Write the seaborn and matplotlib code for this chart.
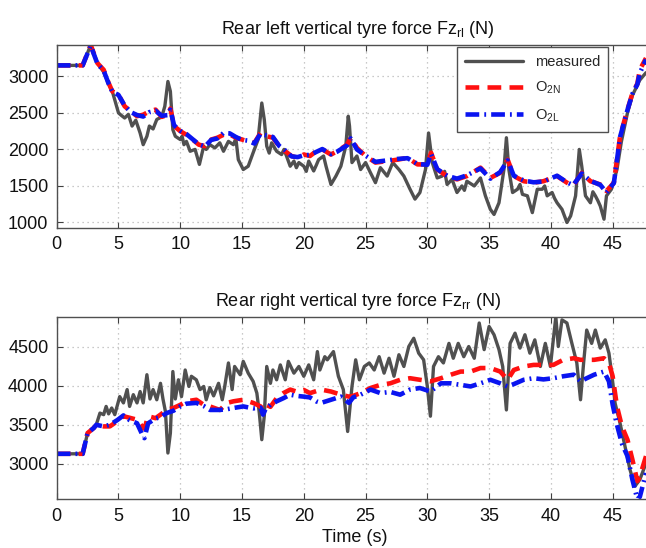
import numpy as np
import pandas as pd
import matplotlib
matplotlib.use("Agg")
import matplotlib.pyplot as plt
import seaborn as sns

# ---------------- Rear left tyre force ----------------
rl_t_meas = [0, 2.1, 2.75, 3.3, 3.8, 4.2, 4.5, 5.0, 5.2, 5.5, 5.8, 6.1, 6.4, 6.75, 7.0, 7.3, 7.5,
             7.8, 8.1, 8.5, 8.75, 9.0, 9.2, 9.4, 9.6, 10.0, 10.15, 10.3, 10.5, 10.8, 11.2, 11.55,
             11.9, 12.1, 12.4, 12.8, 13.2, 13.5, 13.9, 14.3, 14.5, 14.7, 15.1, 15.5, 15.9, 16.3,
             16.6, 16.8, 17.0, 17.2, 17.4, 17.8, 18.2, 18.4, 18.6, 18.9, 19.2, 19.4, 19.6, 20.0,
             20.2, 20.4, 20.8, 21.0, 21.2, 21.6, 21.8, 22.2, 22.6, 23.0, 23.4, 23.6, 23.7, 23.9,
             24.3, 24.6, 25.0, 25.4, 25.8, 26.2, 26.75, 27.2, 27.7, 28.1, 28.6, 29.0, 29.4, 29.85,
             30.1, 30.4, 30.8, 31.2, 31.4, 31.6, 32.0, 32.4, 32.8, 33.0, 33.2, 33.8, 34.3, 34.7,
             35.1, 35.4, 35.8, 36.2, 36.4, 36.6, 36.9, 37.3, 37.5, 37.7, 38.1, 38.5, 38.9, 39.3,
             39.5, 39.7, 40.1, 40.3, 40.5, 40.9, 41.3, 41.6, 42.0, 42.3, 42.5, 42.8, 43.2, 43.4,
             43.6, 43.8, 44.0, 44.3, 44.5, 44.9, 45.35, 45.7, 46.2, 46.6, 47.2, 47.7]
rl_meas = [3150, 3150, 3430, 3180, 3060, 2900, 2795, 2500, 2470, 2430, 2480, 2320, 2400, 2225,
           2065, 2180, 2320, 2280, 2410, 2445, 2590, 2930, 2795, 2270, 2180, 2135, 2180, 2065,
           2110, 1975, 2000, 1795, 2045, 2000, 2065, 2020, 2090, 1975, 2110, 2065, 2150, 1860,
           1725, 1770, 1955, 2135, 2635, 2410, 2045, 1950, 2090, 1975, 1930, 2000, 1910, 1770,
           1840, 1750, 1820, 1770, 1700, 1840, 1705, 1780, 1860, 1910, 1770, 1520, 1635, 1770,
           2045, 2455, 2320, 1820, 1910, 1725, 1820, 1680, 1545, 1750, 1635, 1820, 1725, 1635,
           1455, 1320, 1410, 1725, 2225, 1820, 1610, 1635, 1700, 1520, 1590, 1410, 1500, 1440,
           1565, 1500, 1610, 1365, 1180, 1110, 1270, 1725, 2160, 1725, 1410, 1455, 1520, 1385,
           1365, 1135, 1455, 1455, 1500, 1365, 1410, 1330, 1270, 1180, 1000, 1090, 1365, 2000,
           1770, 1365, 1270, 1420, 1365, 1300, 1225, 1045, 1365, 1455, 1725, 2100, 2500, 2740,
           2950, 3050]

rl_t_est = [0, 2.1, 2.75, 3.3, 3.8, 4.2, 4.5, 5.0, 5.5, 6.0, 6.5, 7.0, 7.5, 8.0, 8.5, 9.0, 9.2,
            9.5, 10.0, 10.5, 11.0, 11.5, 12.0, 12.5, 13.0, 13.5, 14.0, 14.5, 15.0, 15.5, 16.0,
            16.5, 17.0, 17.5, 18.0, 18.5, 19.0, 19.5, 20.0, 20.5, 21.0, 21.5, 22.2, 22.7, 23.5,
            23.8, 24.3, 25.0, 25.8, 26.75, 27.6, 28.4, 29.2, 30.0, 30.3, 30.8, 31.6, 32.4, 33.2,
            34.3, 35.1, 35.9, 36.5, 37.0, 37.8, 38.6, 39.4, 40.5, 41.3, 41.8, 42.5, 43.2, 44.0,
            44.5, 45.1, 45.6, 46.2, 46.6, 47.0, 47.2, 47.7]
rl_o2n = [3150, 3150, 3430, 3180, 3090, 2910, 2795, 2750, 2590, 2520, 2455, 2475, 2520, 2545,
          2445, 2475, 2560, 2320, 2250, 2200, 2135, 2065, 2045, 2135, 2160, 2200, 2205, 2160,
          2135, 2110, 2090, 2225, 2180, 2160, 2045, 1975, 1910, 1885, 1930, 1910, 1975, 2000,
          1930, 1975, 2065, 2160, 2020, 1910, 1820, 1840, 1860, 1885, 1795, 1795, 1955, 1725,
          1635, 1590, 1635, 1750, 1610, 1680, 1860, 1635, 1565, 1545, 1565, 1635, 1545, 1500,
          1680, 1565, 1520, 1430, 1545, 2180, 2545, 2770, 2900, 3090, 3250]
rl_o2l = [3150, 3150, 3420, 3170, 3080, 2900, 2790, 2745, 2600, 2510, 2470, 2450, 2510, 2530,
          2460, 2470, 2545, 2330, 2255, 2210, 2140, 2070, 2040, 2130, 2150, 2225, 2220, 2170,
          2130, 2120, 2080, 2215, 2190, 2170, 2050, 1985, 1905, 1895, 1920, 1925, 1965, 2005,
          1935, 1970, 2055, 2150, 2000, 1915, 1830, 1850, 1870, 1880, 1800, 1790, 1940, 1730,
          1640, 1600, 1645, 1740, 1600, 1690, 1850, 1640, 1575, 1550, 1560, 1640, 1550, 1510,
          1670, 1570, 1515, 1410, 1540, 2170, 2540, 2760, 2890, 3045, 3230]

# ---------------- Rear right tyre force ----------------
rr_t_meas = [0, 2.1, 2.5, 3.0, 3.2, 3.5, 3.8, 4.0, 4.2, 4.45, 4.7, 5.1, 5.4, 5.7, 5.9, 6.2, 6.5,
             6.75, 7.0, 7.3, 7.55, 7.8, 8.1, 8.4, 8.6, 8.8, 9.0, 9.2, 9.4, 9.6, 9.85, 10.1, 10.4,
             10.7, 10.9, 11.3, 11.6, 11.9, 12.1, 12.4, 12.7, 13.1, 13.4, 13.6, 13.9, 14.2, 14.4,
             14.85, 15.1, 15.5, 15.9, 16.2, 16.4, 16.6, 16.8, 17.0, 17.3, 17.5, 17.8, 18.1, 18.5,
             18.75, 19.2, 19.6, 20.0, 20.4, 20.8, 21.1, 21.3, 21.7, 21.9, 22.4, 22.8, 23.2, 23.55,
             23.9, 24.2, 24.5, 24.9, 25.3, 25.7, 26.1, 26.5, 26.9, 27.3, 27.7, 28.1, 28.5, 28.9,
             29.3, 29.7, 30.0, 30.25, 30.5, 30.9, 31.3, 31.75, 32.1, 32.5, 32.95, 33.35, 33.8,
             34.2, 34.6, 35.0, 35.4, 35.8, 36.1, 36.4, 36.7, 37.1, 37.5, 37.9, 38.3, 38.7, 39.15,
             39.55, 39.96, 40.4, 40.6, 40.9, 41.3, 41.7, 42.1, 42.4, 42.65, 42.9, 43.3, 43.6,
             44.0, 44.4, 44.7, 44.95, 45.2, 45.6, 46.0, 46.4, 46.8, 47.2, 47.7]
rr_meas = [3130, 3130, 3395, 3460, 3500, 3650, 3630, 3735, 3640, 3715, 3630, 3860, 3780, 3950,
           3735, 3885, 3780, 3925, 3780, 4140, 3830, 3950, 3820, 4030, 3830, 3670, 3140, 3395,
           4180, 3830, 4075, 3860, 4200, 3990, 4120, 4075, 3950, 3990, 3820, 3975, 3870, 4030,
           3820, 3990, 4290, 3950, 4245, 4140, 4310, 4160, 4055, 3905, 3650, 3310, 3610, 4245,
           4030, 4200, 4075, 4265, 4075, 4310, 4160, 4245, 4120, 4265, 4075, 4435, 4200, 4370,
           4330, 4435, 4120, 3950, 3415, 3990, 4330, 4075, 4245, 4290, 4200, 4370, 4160, 4350,
           4120, 4395, 4245, 4500, 4605, 4415, 4330, 3990, 3610, 4245, 4370, 4290, 4540, 4350,
           4540, 4370, 4500, 4350, 4800, 4460, 4755, 4650, 4460, 4245, 3690, 4540, 4670, 4480,
           4650, 4415, 4585, 4245, 4540, 4245, 4880, 4500, 4840, 4800, 4540, 4290, 3820, 4290,
           4710, 4540, 4710, 4480, 4585, 4415, 4120, 3775, 3520, 3225, 2930, 2715, 2800, 3010]

rr_t_est = [0, 2.1, 2.5, 3.0, 3.2, 3.8, 4.3, 4.9, 5.4, 5.9, 6.5, 7.0, 7.1, 7.4, 8.0, 8.4, 8.9,
            9.45, 10.0, 10.5, 11.3, 11.9, 12.4, 13.2, 13.8, 14.3, 15.1, 15.9, 16.5, 16.7, 16.9,
            17.3, 17.8, 18.35, 18.9, 19.4, 20.0, 20.5, 21.0, 21.4, 22.2, 23.0, 23.65, 24.0,
            24.6, 25.4, 26.2, 27.0, 27.8, 28.6, 29.4, 30.25, 31.1, 31.9, 32.7, 33.5, 34.3, 35.1,
            35.9, 36.5, 37.0, 37.8, 38.6, 39.4, 40.2, 41.0, 41.85, 42.4, 42.9, 43.5, 44.3, 44.7,
            45.0, 45.35, 45.75, 46.2, 46.6, 47.0, 47.2, 47.7]
rr_o2n = [3130, 3130, 3395, 3460, 3500, 3480, 3480, 3545, 3610, 3590, 3565, 3460, 3450, 3610,
          3585, 3630, 3690, 3715, 3755, 3800, 3820, 3755, 3735, 3690, 3780, 3800, 3820, 3780,
          3735, 3700, 3760, 3730, 3840, 3905, 3950, 3925, 3945, 3905, 3930, 3950, 3925, 3885,
          3860, 3870, 3905, 3970, 4010, 4030, 4075, 4095, 4075, 4055, 4095, 4140, 4180, 4180,
          4225, 4225, 4180, 4075, 4200, 4245, 4265, 4265, 4265, 4330, 4350, 4330, 4330, 4330,
          4350, 4290, 4120, 3735, 3480, 3310, 3055, 2780, 2840, 3100]
rr_o2l = [3130, 3130, 3395, 3460, 3500, 3480, 3500, 3560, 3620, 3560, 3520, 3350, 3330, 3520,
          3580, 3600, 3650, 3680, 3735, 3770, 3780, 3740, 3690, 3690, 3700, 3715, 3735, 3710,
          3720, 3630, 3700, 3755, 3800, 3840, 3885, 3870, 3860, 3850, 3800, 3780, 3820, 3860,
          3780, 3850, 3885, 3950, 3905, 3920, 3885, 3950, 3970, 3925, 4030, 4030, 4010, 3990,
          4030, 4075, 4030, 3990, 4020, 4075, 4095, 4080, 4095, 4120, 4140, 4055, 4095, 4140,
          4180, 4055, 3760, 3500, 3260, 3100, 2800, 2550, 2580, 2885]

x_ticks = [0, 5, 10, 15, 20, 25, 30, 35, 40, 45]
rl_yticks = [1000, 1500, 2000, 2500, 3000]
rr_yticks = [3000, 3500, 4000, 4500]

sns.set_theme(style="white")
plt.rcParams["font.family"] = ["Liberation Sans", "DejaVu Sans"]
plt.rcParams["mathtext.fontset"] = "custom"
plt.rcParams["mathtext.rm"] = "Liberation Sans"
plt.rcParams["mathtext.it"] = "Liberation Sans"

GRAY = "#505050"
RED = "#ff1010"
BLUE = "#0a14f0"

fig = plt.figure(figsize=(6.46, 5.48), dpi=100)
ax1 = fig.add_axes([0.0878, 0.584, 1 - 0.0878, 0.334])
ax2 = fig.add_axes([0.0878, 0.089, 1 - 0.0878, 0.333])


def draw(ax, t_meas, meas, t_est, o2n, o2l):
    sns.lineplot(x=t_meas, y=meas, ax=ax, color=GRAY, lw=2.4, label="measured",
                 estimator=None, sort=False)
    sns.lineplot(x=t_est, y=o2n, ax=ax, color=RED, lw=3.3, linestyle=(0, (3, 1.8)),
                 label="O$_{\\mathregular{2N}}$", estimator=None, sort=False)
    sns.lineplot(x=t_est, y=o2l, ax=ax, color=BLUE, lw=3.3,
                 linestyle=(0, (3, 1.1, 0.4, 1.1)),
                 label="O$_{\\mathregular{2L}}$", estimator=None, sort=False)
    ax.set_xlim(0, 47.7)
    ax.set_xticks(x_ticks)
    ax.grid(True, color="#b8b8b8", linestyle=(0, (1, 3)), lw=0.9)
    ax.tick_params(direction="in", length=4, width=0.8, colors="#404040",
                   labelsize=13, labelcolor="#111111", top=True, bottom=True,
                   left=True, right=False, pad=6)
    for side in ["left", "top", "bottom"]:
        ax.spines[side].set_color("#505050")
        ax.spines[side].set_linewidth(1.0)
    ax.spines["right"].set_visible(False)
    ax.set_ylabel("")


draw(ax1, rl_t_meas, rl_meas, rl_t_est, rl_o2n, rl_o2l)
ax1.set_ylim(925, 3430)
ax1.set_yticks(rl_yticks)
ax1.set_title("Rear left vertical tyre force Fz$_{\\mathregular{rl}}$ (N)", fontsize=13,
              x=0.511, pad=8, color="#111111")
leg = ax1.legend(loc="upper right", bbox_to_anchor=(0.9355, 0.989), borderaxespad=0,
                 fontsize=10.5, fancybox=False, framealpha=1, edgecolor="#505050",
                 handlelength=4.0, labelspacing=0.75, borderpad=0.55)
leg.get_frame().set_linewidth(1.0)

draw(ax2, rr_t_meas, rr_meas, rr_t_est, rr_o2n, rr_o2l)
ax2.set_ylim(2550, 4880)
ax2.set_yticks(rr_yticks)
ax2.legend().remove()
ax2.set_title("Rear right vertical tyre force Fz$_{\\mathregular{rr}}$ (N)", fontsize=13,
              x=0.511, pad=8, color="#111111")
ax2.set_xlabel("Time (s)", fontsize=13, color="#111111")
ax2.xaxis.set_label_coords(0.506, -0.165)

fig.savefig("out.png", dpi=100)
